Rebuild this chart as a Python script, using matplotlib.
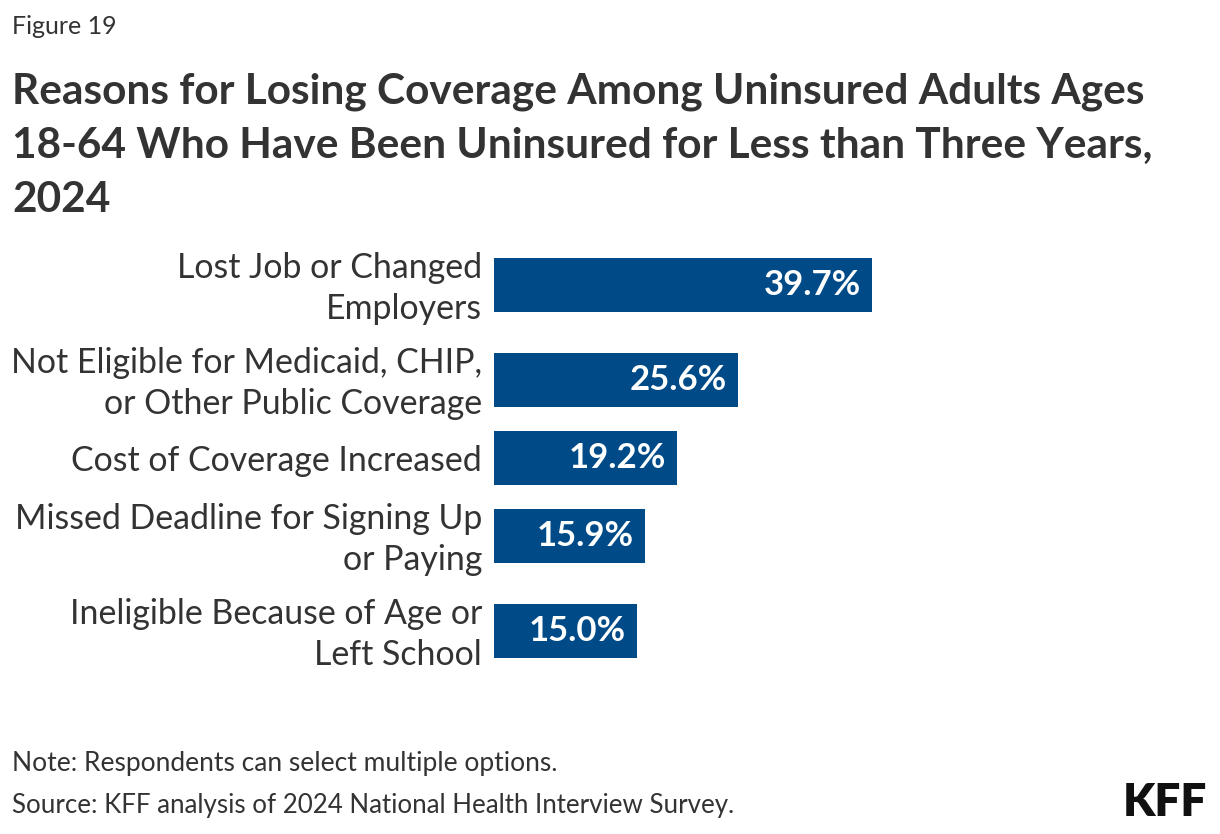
import matplotlib
matplotlib.use("Agg")
import matplotlib.pyplot as plt
import matplotlib.transforms as mtransforms
import numpy as np

categories = [
    "Lost Job or Changed\nEmployers",
    "Not Eligible for Medicaid, CHIP,\nor Other Public Coverage",
    "Cost of Coverage Increased",
    "Missed Deadline for Signing Up\nor Paying",
    "Ineligible Because of Age or\nLeft School",
]
values = [39.7, 25.6, 19.2, 15.9, 15.0]
value_labels = ["39.7%", "25.6%", "19.2%", "15.9%", "15.0%"]

title_lines = [
    "Reasons for Losing Coverage Among Uninsured Adults Ages",
    "18-64 Who Have Been Uninsured for Less than Three Years,",
    "2024",
]

BLUE = "#004B87"
TEXT = "#333333"
FONT = "Lato"

W, H = 1220, 834
fig = plt.figure(figsize=(W / 100, H / 100), dpi=100)
fig.patch.set_facecolor("white")

# layout: each category block height depends on its number of label lines
lines = np.array([c.count("\n") + 1 for c in categories])
block = 27 + 34 * lines
edges = np.concatenate([[0], np.cumsum(block)])
centers = (edges[:-1] + edges[1:]) / 2
total = edges[-1]

top_px = 237.5
ax_left_px = 494
ax_w_px = 700
px_per_unit = 378 / 39.7
ax = fig.add_axes([ax_left_px / W, 1 - (top_px + total) / H, ax_w_px / W, total / H])
ax.barh(centers, values, height=54, color=BLUE)
ax.set_ylim(total, 0)
ax.set_xlim(0, ax_w_px / px_per_unit)
ax.set_yticks(centers)
ax.set_yticklabels(categories, fontsize=24.4, color=TEXT, family=FONT, linespacing=1.36)
ax.tick_params(axis="y", length=0, pad=8.5)
ax.set_xticks([])
for s in ax.spines.values():
    s.set_visible(False)
# nudge multi-line labels up slightly so they centre on the bars
for lab, n in zip(ax.get_yticklabels(), lines):
    off = mtransforms.ScaledTranslation(0, 4 * (n - 1) / 100, fig.dpi_scale_trans)
    lab.set_transform(lab.get_transform() + off)

for y, v, lab in zip(centers, values, value_labels):
    ax.annotate(lab, (v, y), xytext=(-8, 0), textcoords="offset points",
                ha="right", va="center", color="white", fontsize=25,
                fontweight="bold", family=FONT)

fig.text(12 / W, 1 - 27 / H, "Figure 19", fontsize=18, color=TEXT, family=FONT,
         va="center", ha="left")
for i, t in enumerate(title_lines):
    fig.text(12 / W, 1 - (92 + 54 * i) / H, t, fontsize=30.5, fontweight="bold",
             color=TEXT, family=FONT, va="center", ha="left")
fig.text(12 / W, 1 - 764 / H, "Note: Respondents can select multiple options.",
         fontsize=19, color=TEXT, family=FONT, va="center", ha="left")
fig.text(12 / W, 1 - 806 / H, "Source: KFF analysis of 2024 National Health Interview Survey.",
         fontsize=18.6, color=TEXT, family=FONT, va="center", ha="left")
fig.text(1207 / W, 1 - 802 / H, "KFF", fontsize=33, fontweight="heavy", color="#111111",
         family=FONT, va="center", ha="right")

fig.savefig("out.png", dpi=100, facecolor="white")
